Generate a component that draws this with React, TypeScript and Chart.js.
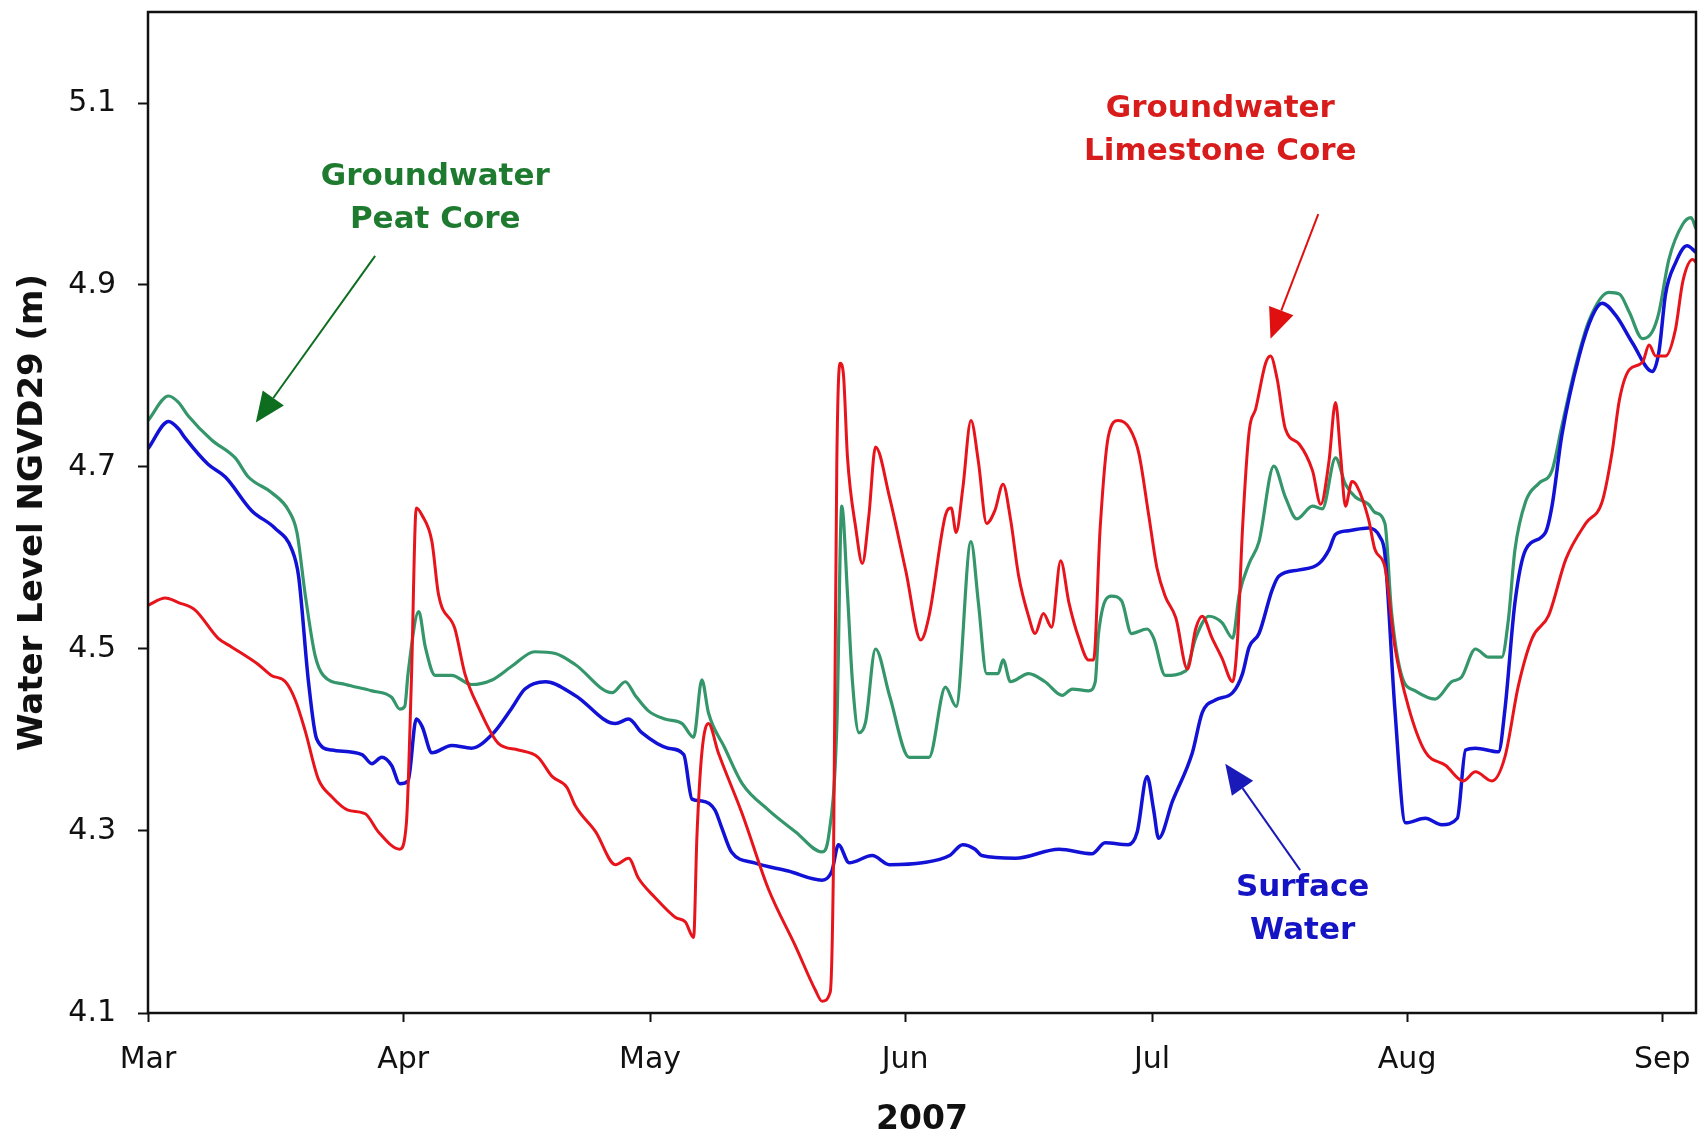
import { useEffect, useRef } from "react";
import { Chart, registerables } from "chart.js";

Chart.register(...registerables);

// Days counted from 1 March 2007
const monthTicks = [0, 31, 61, 92, 122, 153, 184];
const monthLabels = ["Mar", "Apr", "May", "Jun", "Jul", "Aug", "Sep"];
const levelTicks = [4.1, 4.3, 4.5, 4.7, 4.9, 5.1];

// Groundwater, peat core
const peatDays = [
  0.0, 2.5, 3.7, 4.9, 7.7, 10.6, 12.2, 15.0, 17.1, 18.1, 19.1, 20.3, 21.3, 24.0, 27.2, 29.6,
  30.6, 31.2, 31.6, 32.9, 33.7, 34.9, 36.9, 39.3, 41.8, 44.2, 47.0, 49.5, 51.9, 56.4, 58.0,
  59.2, 60.8, 62.8, 64.9, 66.3, 67.3, 68.1, 70.1, 72.2, 75.4, 78.7, 81.9, 82.7, 83.7, 84.3,
  85.0, 85.6, 86.4, 87.2, 88.4, 90.1, 92.5, 94.9, 96.9, 98.2, 100.0, 100.9, 101.9, 103.3,
  103.9, 104.8, 107.0, 109.0, 111.1, 112.3, 114.3, 115.1, 115.5, 117.1, 118.3, 119.5, 121.4,
  122.2, 123.6, 126.1, 127.3, 128.9, 130.5, 131.8, 132.6, 133.8, 135.0, 136.8, 138.2, 139.6,
  141.5, 142.7, 144.3, 145.5, 146.7, 148.3, 149.1, 150.3, 151.1, 152.4, 154.0, 156.4, 158.4,
  159.6, 161.3, 162.9, 164.5, 165.3, 166.1, 167.4, 169.0, 170.6, 171.8, 173.5, 175.1, 177.5,
  178.8, 180.0, 181.6, 182.8, 183.6, 184.8, 186.5, 187.5, 188.1,
];
const peatLevels = [
  4.751, 4.778, 4.771, 4.756, 4.730, 4.710, 4.689, 4.672, 4.652, 4.628, 4.560, 4.493, 4.471,
  4.461, 4.454, 4.447, 4.434, 4.437, 4.473, 4.541, 4.502, 4.471, 4.471, 4.461, 4.466, 4.481,
  4.497, 4.495, 4.483, 4.452, 4.464, 4.449, 4.432, 4.423, 4.418, 4.403, 4.466, 4.430, 4.391,
  4.352, 4.323, 4.299, 4.277, 4.294, 4.415, 4.657, 4.560, 4.464, 4.408, 4.420, 4.500, 4.449,
  4.381, 4.381, 4.458, 4.437, 4.618, 4.551, 4.473, 4.473, 4.488, 4.464, 4.473, 4.464, 4.449,
  4.456, 4.454, 4.464, 4.517, 4.558, 4.553, 4.517, 4.522, 4.512, 4.471, 4.476, 4.512, 4.536,
  4.529, 4.512, 4.560, 4.594, 4.618, 4.701, 4.667, 4.643, 4.657, 4.654, 4.710, 4.681, 4.667,
  4.659, 4.650, 4.638, 4.541, 4.469, 4.454, 4.445, 4.464, 4.469, 4.500, 4.491, 4.491, 4.532,
  4.609, 4.662, 4.682, 4.696, 4.745, 4.812, 4.861, 4.892, 4.890, 4.870, 4.841, 4.849, 4.870,
  4.928, 4.967, 4.974, 4.962,
];

// Surface water
const surfaceDays = [
  0.0, 2.5, 3.7, 4.5, 7.3, 9.4, 12.6, 15.4, 17.5, 18.3, 19.5, 20.5, 22.3, 26.0, 27.2, 28.4,
  29.6, 30.6, 31.6, 32.6, 33.3, 34.5, 36.9, 39.3, 41.8, 44.2, 45.8, 48.3, 51.9, 56.8, 58.4,
  60.0, 63.2, 65.1, 66.1, 67.3, 68.9, 69.7, 70.9, 73.7, 77.8, 81.9, 83.1, 83.9, 85.2, 88.0,
  90.1, 94.1, 97.4, 99.0, 100.5, 101.3, 105.4, 110.7, 114.7, 116.3, 119.1, 120.2, 121.4,
  122.2, 122.8, 124.5, 126.9, 128.1, 129.7, 131.8, 133.0, 133.8, 135.0, 136.6, 137.4, 139.9,
  142.3, 143.5, 144.3, 145.9, 148.3, 149.7, 150.3, 151.5, 152.8, 155.2, 157.2, 159.1, 160.1,
  161.3, 164.1, 164.9, 166.1, 167.4, 169.8, 170.6, 171.8, 173.9, 175.5, 176.7, 178.4, 180.4,
  182.8, 183.6, 184.4, 185.6, 187.0, 188.1,
];
const surfaceLevels = [
  4.720, 4.750, 4.742, 4.732, 4.703, 4.689, 4.652, 4.633, 4.609, 4.580, 4.464, 4.401, 4.389,
  4.384, 4.374, 4.381, 4.372, 4.352, 4.355, 4.423, 4.415, 4.386, 4.394, 4.391, 4.406, 4.435,
  4.456, 4.464, 4.449, 4.418, 4.423, 4.408, 4.391, 4.384, 4.335, 4.333, 4.323, 4.304, 4.277,
  4.265, 4.256, 4.246, 4.256, 4.285, 4.265, 4.273, 4.263, 4.265, 4.273, 4.285, 4.280, 4.273,
  4.270, 4.280, 4.275, 4.287, 4.285, 4.299, 4.360, 4.323, 4.292, 4.333, 4.386, 4.430, 4.444,
  4.452, 4.473, 4.502, 4.517, 4.565, 4.580, 4.587, 4.594, 4.609, 4.626, 4.630, 4.633, 4.623,
  4.604, 4.435, 4.309, 4.314, 4.307, 4.314, 4.389, 4.391, 4.387, 4.435, 4.551, 4.609, 4.628,
  4.657, 4.735, 4.822, 4.866, 4.880, 4.866, 4.836, 4.805, 4.827, 4.890, 4.924, 4.943, 4.936,
];

// Groundwater, limestone core
const limestoneDays = [
  0.0, 2.1, 3.7, 5.7, 8.5, 10.2, 13.4, 15.0, 16.7, 17.9, 19.1, 20.7, 22.3, 24.3, 26.4, 28.0,
  30.6, 31.4, 32.0, 32.6, 33.3, 34.5, 35.3, 37.3, 38.5, 40.2, 42.6, 45.0, 47.4, 49.1, 50.9,
  51.9, 54.4, 56.8, 58.4, 59.6, 61.6, 64.1, 65.3, 66.3, 66.7, 67.3, 68.1, 69.3, 72.2, 75.4,
  78.7, 81.1, 81.9, 82.9, 83.3, 83.7, 84.1, 84.5, 85.0, 86.0, 86.8, 87.6, 88.4, 90.1, 92.1,
  93.9, 94.9, 96.9, 97.6, 98.2, 99.0, 100.0, 100.9, 101.9, 102.9, 103.9, 104.8, 105.8, 107.0,
  107.8, 108.8, 109.8, 110.9, 111.9, 113.1, 114.3, 114.9, 115.7, 116.7, 117.9, 119.3, 120.4,
  121.6, 122.6, 123.6, 124.9, 126.3, 127.3, 128.1, 129.3, 130.5, 131.8, 132.4, 133.0, 133.8,
  134.6, 135.8, 136.4, 137.2, 138.2, 139.9, 141.5, 142.5, 143.5, 144.3, 144.9, 145.5, 146.3,
  146.9, 148.3, 149.1, 150.3, 151.5, 153.2, 155.2, 157.7, 159.8, 161.3, 163.3, 164.9, 166.5,
  168.2, 170.2, 172.3, 174.7, 176.7, 177.9, 178.8, 180.0, 181.6, 182.4, 183.2, 184.4, 185.6,
  186.5, 187.7, 188.1,
];
const limestoneLevels = [
  4.548, 4.556, 4.551, 4.543, 4.512, 4.502, 4.483, 4.471, 4.464, 4.444, 4.410, 4.357, 4.338,
  4.323, 4.319, 4.299, 4.280, 4.309, 4.464, 4.655, 4.647, 4.618, 4.560, 4.522, 4.473, 4.435,
  4.396, 4.389, 4.381, 4.360, 4.348, 4.328, 4.299, 4.263, 4.270, 4.248, 4.227, 4.205, 4.200,
  4.183, 4.294, 4.386, 4.418, 4.386, 4.319, 4.236, 4.173, 4.125, 4.113, 4.123, 4.270, 4.706,
  4.814, 4.802, 4.710, 4.633, 4.594, 4.647, 4.722, 4.667, 4.585, 4.510, 4.536, 4.647, 4.655,
  4.628, 4.676, 4.751, 4.706, 4.638, 4.652, 4.681, 4.643, 4.580, 4.536, 4.517, 4.539, 4.524,
  4.597, 4.551, 4.512, 4.488, 4.488, 4.633, 4.734, 4.751, 4.742, 4.715, 4.647, 4.589, 4.558,
  4.534, 4.478, 4.522, 4.536, 4.512, 4.490, 4.464, 4.512, 4.633, 4.739, 4.764, 4.814, 4.822,
  4.797, 4.742, 4.725, 4.696, 4.659, 4.706, 4.771, 4.715, 4.657, 4.684, 4.679, 4.643, 4.609,
  4.590, 4.503, 4.435, 4.387, 4.372, 4.355, 4.365, 4.355, 4.382, 4.459, 4.512, 4.537, 4.599,
  4.638, 4.662, 4.716, 4.774, 4.807, 4.815, 4.834, 4.822, 4.822, 4.851, 4.904, 4.928, 4.925,
];

const pairs = (days: number[], levels: number[]) =>
  days.map((d, i) => ({ x: d, y: levels[i] }));

// Callout labels with their arrows, placed in data units (day, level)
const callouts = [
  {
    lines: ["Groundwater", "Peat Core"],
    at: [34.9, 5.019],
    from: [27.6, 4.932],
    to: [13.1, 4.749],
    text: "#1d7a2f",
    arrow: "#0d6e20",
  },
  {
    lines: ["Groundwater", "Limestone Core"],
    at: [130.3, 5.093],
    from: [142.2, 4.978],
    to: [136.4, 4.841],
    text: "#d81c1c",
    arrow: "#e01010",
  },
  {
    lines: ["Surface", "Water"],
    at: [140.3, 4.237],
    from: [140.0, 4.257],
    to: [130.9, 4.374],
    text: "#1414c4",
    arrow: "#1a1ab8",
  },
];

const framePlugin = {
  id: "frameAndCallouts",
  afterDatasetsDraw(chart: any) {
    const { ctx, chartArea: a, scales } = chart;
    const xs = scales.x;
    const ys = scales.y;
    ctx.save();
    ctx.strokeStyle = "#111";
    ctx.lineWidth = 2.5;
    ctx.strokeRect(a.left, a.top, a.right - a.left, a.bottom - a.top);

    for (const c of callouts) {
      const cx = xs.getPixelForValue(c.at[0]);
      const cy = ys.getPixelForValue(c.at[1]);
      ctx.font = "bold 31px 'DejaVu Sans'";
      ctx.fillStyle = c.text;
      ctx.textAlign = "center";
      ctx.textBaseline = "middle";
      c.lines.forEach((t, i) => ctx.fillText(t, cx, cy + i * 43));

      const x1 = xs.getPixelForValue(c.from[0]);
      const y1 = ys.getPixelForValue(c.from[1]);
      const x2 = xs.getPixelForValue(c.to[0]);
      const y2 = ys.getPixelForValue(c.to[1]);
      const ang = Math.atan2(y2 - y1, x2 - x1);
      const cos = Math.cos(ang);
      const sin = Math.sin(ang);
      const head = 30;
      const half = 13;
      const bx = x2 - head * cos;
      const by = y2 - head * sin;
      ctx.strokeStyle = c.arrow;
      ctx.fillStyle = c.arrow;
      ctx.lineWidth = 2;
      ctx.beginPath();
      ctx.moveTo(x1, y1);
      ctx.lineTo(bx, by);
      ctx.stroke();
      ctx.beginPath();
      ctx.moveTo(x2, y2);
      ctx.lineTo(bx - half * sin, by + half * cos);
      ctx.lineTo(bx + half * sin, by - half * cos);
      ctx.closePath();
      ctx.fill();
    }
    ctx.restore();
  },
};

export default function App() {
  const canvasRef = useRef<HTMLCanvasElement | null>(null);

  useEffect(() => {
    const canvas = canvasRef.current;
    if (!canvas) return;
    const tickFont = { family: "'DejaVu Sans'", size: 30 };
    const chart = new Chart(canvas, {
      type: "line",
      data: {
        datasets: [
          {
            label: "Groundwater Limestone Core",
            data: pairs(limestoneDays, limestoneLevels),
            borderColor: "#e8141c",
            borderWidth: 3,
            pointRadius: 0,
            cubicInterpolationMode: "monotone",
          },
          {
            label: "Surface Water",
            data: pairs(surfaceDays, surfaceLevels),
            borderColor: "#1212d6",
            borderWidth: 3.5,
            pointRadius: 0,
            cubicInterpolationMode: "monotone",
          },
          {
            label: "Groundwater Peat Core",
            data: pairs(peatDays, peatLevels),
            borderColor: "#34966a",
            borderWidth: 3.2,
            pointRadius: 0,
            cubicInterpolationMode: "monotone",
          },
        ],
      },
      options: {
        animation: false,
        responsive: false,
        devicePixelRatio: 1,
        layout: { padding: { left: 0, right: 9, top: 12, bottom: 0 } },
        plugins: {
          legend: { display: false },
          tooltip: { enabled: false },
          title: { display: false },
        },
        scales: {
          x: {
            type: "linear",
            min: 0,
            max: 188.1,
            afterFit: (scale: any) => {
              scale.height = 128;
              scale.paddingLeft = 0;
              scale.paddingRight = 0;
            },
            afterBuildTicks: (scale: any) => {
              scale.ticks = monthTicks.map((v) => ({ value: v }));
            },
            ticks: {
              color: "#111",
              font: tickFont,
              padding: 20,
              maxRotation: 0,
              autoSkip: false,
              callback: (v: any) => {
                const i = monthTicks.indexOf(Number(v));
                return i >= 0 ? monthLabels[i] : "";
              },
            },
            grid: {
              display: true,
              drawOnChartArea: false,
              drawTicks: true,
              tickLength: 9,
              tickColor: "#111",
              tickWidth: 2,
            },
            border: { display: false },
            title: {
              display: true,
              text: "2007",
              color: "#111",
              font: { family: "'DejaVu Sans'", size: 33, weight: "bold" },
              padding: { top: 0, bottom: 1 },
            },
          },
          y: {
            type: "linear",
            min: 4.1,
            max: 5.2,
            afterFit: (scale: any) => {
              scale.width = 148;
              scale.paddingTop = 0;
              scale.paddingBottom = 0;
            },
            afterBuildTicks: (scale: any) => {
              scale.ticks = levelTicks.map((v) => ({ value: v }));
            },
            ticks: {
              color: "#111",
              font: tickFont,
              padding: 22,
              autoSkip: false,
              callback: (v: any) => Number(v).toFixed(1),
            },
            grid: {
              display: true,
              drawOnChartArea: false,
              drawTicks: true,
              tickLength: 10,
              tickColor: "#111",
              tickWidth: 2,
            },
            border: { display: false },
            title: {
              display: true,
              text: "Water Level NGVD29 (m)",
              color: "#111",
              font: { family: "'DejaVu Sans'", size: 34, weight: "bold" },
              padding: { top: 13, bottom: 0 },
            },
          },
        },
      },
      plugins: [framePlugin],
    } as any);
    return () => chart.destroy();
  }, []);

  return (
    <div style={{ position: "absolute", left: 0, top: 0, width: 1705, height: 1141, background: "#fff" }}>
      <canvas ref={canvasRef} width={1705} height={1141} />
    </div>
  );
}
